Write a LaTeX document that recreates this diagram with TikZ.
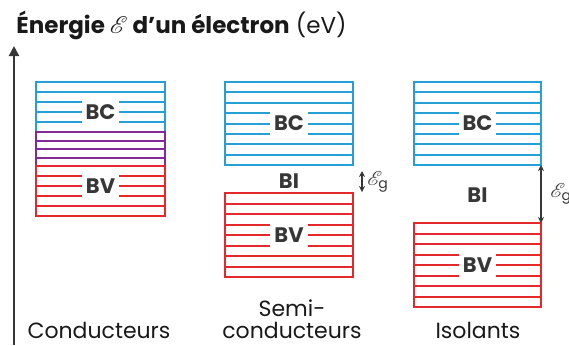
\documentclass[tikz,border=0pt]{standalone}
\usepackage{fontspec}
\setmainfont{Poppins}
\usepackage{amsmath}
\usepackage{mathrsfs}
\usetikzlibrary{arrows.meta, positioning}
\definecolor{bandblue}{RGB}{38, 160, 212}
\definecolor{bandred}{RGB}{228, 40, 44}
\definecolor{bandpurple}{RGB}{130, 42, 150}
\definecolor{inkgray}{RGB}{55, 55, 55}

\tikzset{
  band/.style={line width=1pt},
  bandlabel/.style={fill=white, font=\fontsize{10.5}{12}\selectfont\bfseries, text=inkgray,
    inner xsep=2pt, inner ysep=0pt, minimum height=12pt},
  gaplabel/.style={font=\fontsize{10.5}{12}\selectfont\bfseries, text=inkgray},
  caption/.style={font=\fontsize{11}{11}\selectfont, text=black!90, anchor=base, align=center},
  gaparrow/.style={{Stealth[length=3pt, width=3pt]}-{Stealth[length=3pt, width=3pt]}, inkgray, line width=0.6pt},
}

\begin{document}
\begin{tikzpicture}[x=0.5pt, y=-0.5pt]
  \useasboundingbox (0,0) rectangle (569,345);

  % Energy axis
  \coordinate (axb) at (14,345);
  \coordinate (axt) at (14,46);
  \draw[-{Triangle[length=5pt, width=5pt]}, line width=1pt, inkgray] (axb) -- (axt);
  \node[anchor=base west, inner sep=0pt, font=\fontsize{11.5}{13}\selectfont, text=black!90] (title) at (16,33)
    {\textbf{Énergie $\mathscr{E}$ d'un électron} (eV)};

  % Conducteurs
  \draw[band, bandblue] (36,82) rectangle (165,132);
  \foreach \y in {92,102,112,122} \draw[band, bandblue] (36,\y) -- (165,\y);
  \draw[band, bandpurple] (36,132) rectangle (165,166);
  \foreach \y in {140.5,149,157.5} \draw[band, bandpurple] (36,\y) -- (165,\y);
  \draw[band, bandred] (36,166) rectangle (165,216);
  \foreach \y in {176,186,196,206} \draw[band, bandred] (36,\y) -- (165,\y);
  \node[bandlabel] (c-bc) at (100.5,112) {BC};
  \node[bandlabel] (c-bv) at (100.5,186) {BV};

  % Semi-conducteurs
  \draw[band, bandblue] (225,82) rectangle (353,165);
  \foreach \i in {1,...,7} \draw[band, bandblue] (225,{82+\i*10.375}) -- (353,{82+\i*10.375});
  \draw[band, bandred] (225,193) rectangle (353,277);
  \foreach \i in {1,...,7} \draw[band, bandred] (225,{193+\i*10.5}) -- (353,{193+\i*10.5});
  \node[bandlabel] (sc-bc) at (289,123.5) {BC};
  \node[bandlabel] (sc-bv) at (289,235) {BV};
  \node[gaplabel] (sc-bi) at (289,181) {BI};
  \coordinate (sc-g1) at (362,171);
  \coordinate (sc-g2) at (362,192);
  \draw[gaparrow] (sc-g1) -- (sc-g2) node[midway, right=-1pt, text=inkgray] {$\mathscr{E}_{\mathrm{g}}$};

  % Isolants
  \draw[band, bandblue] (414,82) rectangle (541,165);
  \foreach \i in {1,...,7} \draw[band, bandblue] (414,{82+\i*10.375}) -- (541,{82+\i*10.375});
  \draw[band, bandred] (414,223) rectangle (541,307);
  \foreach \i in {1,...,7} \draw[band, bandred] (414,{223+\i*10.5}) -- (541,{223+\i*10.5});
  \node[bandlabel] (is-bc) at (477.5,123.5) {BC};
  \node[bandlabel] (is-bv) at (477.5,265) {BV};
  \node[gaplabel] (is-bi) at (477.5,195) {BI};
  \coordinate (is-g1) at (541,165);
  \coordinate (is-g2) at (541,223);
  \draw[gaparrow] (is-g1) -- (is-g2) node[midway, right=1pt, text=inkgray] {$\mathscr{E}_{\mathrm{g}}$};

  % Captions
  \node[caption] (cap-c) at (99,338) {Conducteurs};
  \node[caption] (cap-sc) at (292,338) {Semi-\\conducteurs};
  \node[caption] (cap-is) at (478,338) {Isolants};
\end{tikzpicture}
\end{document}
